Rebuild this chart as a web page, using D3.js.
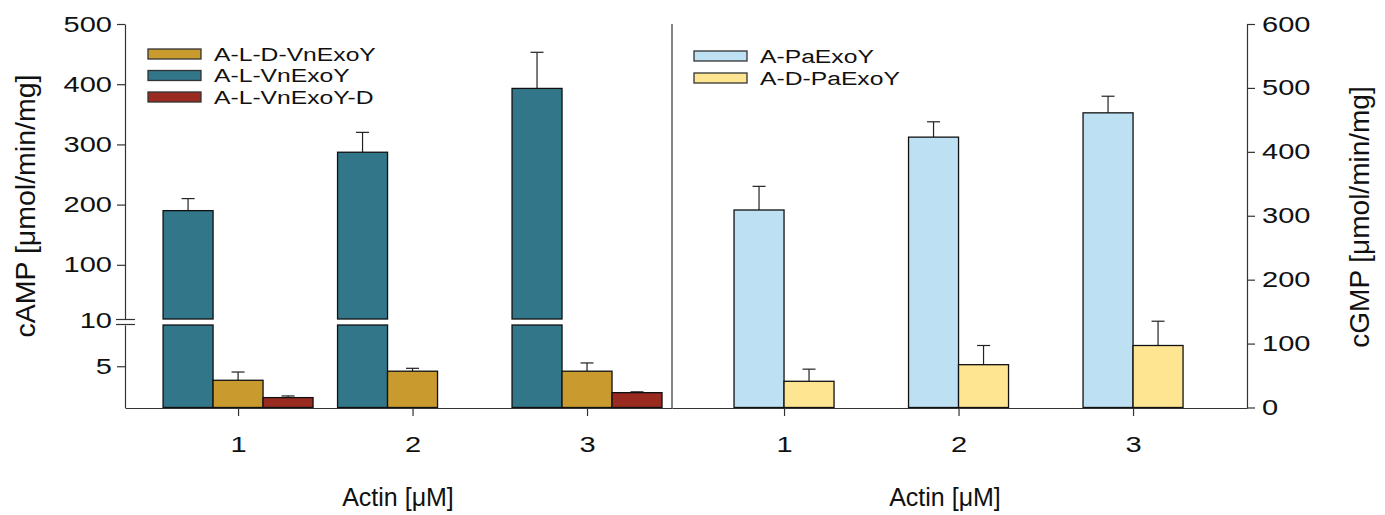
<!DOCTYPE html>
<html><head><meta charset="utf-8">
<script src="https://cdn.jsdelivr.net/npm/d3@7"></script>
<style>body{margin:0;background:#fff}svg{display:block}text{font-family:"Liberation Sans",Arial,sans-serif;fill:#111}</style>
</head><body>
<svg id="c" width="1385" height="515"></svg>
<script>
// ---- data ----
const actin = [1, 2, 3];
const xTickLabels = ["1", "2", "3"];
const seriesLeft = ["A-L-D-VnExoY", "A-L-VnExoY", "A-L-VnExoY-D"];
const seriesRight = ["A-PaExoY", "A-D-PaExoY"];
const alDVn = [3.3, 4.4, 4.4];
const alDVnErr = [1.0, 0.35, 1.0];
const alVn = [190, 287, 393];
const alVnErr = [20, 33, 60];
const alVnD = [1.2, 0, 1.8];
const alVnDErr = [0.2, 0, 0.1];
const aPa = [309, 423, 461];
const aPaErr = [37, 24, 26];
const aDPa = [41, 67, 97];
const aDPaErr = [19, 30, 38];
const leftTicksLow = [5];
const leftTicksHigh = [100, 200, 300, 400, 500];
const rightTicks = [0, 100, 200, 300, 400, 500, 600];

const colors = {"A-L-D-VnExoY":"#c99a2e","A-L-VnExoY":"#327689","A-L-VnExoY-D":"#9a2b20","A-PaExoY":"#bde0f2","A-D-PaExoY":"#fde592"};

const svg = d3.select("#c");
const xL = d3.scaleLinear().domain([0.352, 3.487]).range([125, 672]);
const xR = d3.scaleLinear().domain([0.358, 3.653]).range([672, 1247]);
const yLow = d3.scaleLinear().domain([0, 10]).range([407.5, 325]);
const yHigh = d3.scaleLinear().domain([10, 500]).range([319, 24]);
const yR = d3.scaleLinear().domain([0, 600]).range([407.5, 24]);
const bw = 50 / 174.5; // bar width in data units

const g = svg.append("g");
function errBar(x, y1, y2) {
  g.append("line").attr("x1", x).attr("x2", x).attr("y1", y1).attr("y2", y2).attr("stroke", "#222").attr("stroke-width", 1.2);
  g.append("line").attr("x1", x - 6.5).attr("x2", x + 6.5).attr("y1", y2).attr("y2", y2).attr("stroke", "#222").attr("stroke-width", 1.2);
}
function rect(x0, x1, y0, y1, fill) {
  g.append("rect").attr("x", x0).attr("width", x1 - x0).attr("y", Math.min(y0, y1)).attr("height", Math.abs(y1 - y0))
    .attr("fill", fill).attr("stroke", "#111").attr("stroke-width", 1.3);
}
actin.forEach((a, i) => {
  const t0 = xL(a - 1.5 * bw), t1 = xL(a - 0.5 * bw);
  errBar((t0 + t1) / 2, yHigh(alVn[i]), yHigh(alVn[i] + alVnErr[i]));
  rect(t0, t1, yLow(0), yLow(10), colors["A-L-VnExoY"]);
  rect(t0, t1, yHigh(10), yHigh(alVn[i]), colors["A-L-VnExoY"]);
  const g0 = xL(a - 0.5 * bw), g1 = xL(a + 0.5 * bw);
  errBar((g0 + g1) / 2, yLow(alDVn[i]), yLow(alDVn[i] + alDVnErr[i]));
  rect(g0, g1, yLow(0), yLow(alDVn[i]), colors["A-L-D-VnExoY"]);
  if (alVnD[i] > 0) {
    const r0 = xL(a + 0.5 * bw), r1 = xL(a + 1.5 * bw);
    errBar((r0 + r1) / 2, yLow(alVnD[i]), yLow(alVnD[i] + alVnDErr[i]));
    rect(r0, r1, yLow(0), yLow(alVnD[i]), colors["A-L-VnExoY-D"]);
  }
});
actin.forEach((a, i) => {
  const b0 = xR(a - bw), b1 = xR(a);
  errBar((b0 + b1) / 2, yR(aPa[i]), yR(aPa[i] + aPaErr[i]));
  rect(b0, b1, yR(0), yR(aPa[i]), colors["A-PaExoY"]);
  const y0 = xR(a), y1 = xR(a + bw);
  errBar((y0 + y1) / 2, yR(aDPa[i]), yR(aDPa[i] + aDPaErr[i]));
  rect(y0, y1, yR(0), yR(aDPa[i]), colors["A-D-PaExoY"]);
});

// axes
const TICKFS = "22px", SX = 1.32;
function stretch(sel) {
  sel.selectAll("text").each(function () {
    const t = d3.select(this);
    const x = +t.attr("x") || 0;
    t.attr("x", 0).attr("transform", `translate(${x},0) scale(${SX},1)`);
  });
}
const axStyle = sel => { sel.selectAll("path,line").attr("stroke", "#333").attr("stroke-width", 1.2); sel.selectAll("text").style("font-size", TICKFS).attr("fill", "#111"); stretch(sel); };
const axLH = svg.append("g").attr("transform", "translate(125,0)")
  .call(d3.axisLeft(yHigh).tickValues(leftTicksHigh).tickSize(8).tickSizeOuter(0).tickPadding(5).tickFormat(d3.format("d")));
axStyle(axLH);
const axLL = svg.append("g").attr("transform", "translate(125,0)")
  .call(d3.axisLeft(yLow).tickValues(leftTicksLow).tickSize(8).tickSizeOuter(0).tickPadding(5).tickFormat(d3.format("d")));
axStyle(axLL);
svg.append("line").attr("x1", 125).attr("x2", 125).attr("y1", 319).attr("y2", 325).attr("stroke", "#333").attr("stroke-width", 1.2);
svg.append("rect").attr("x", 121).attr("width", 8).attr("y", 320).attr("height", 4).attr("fill", "#fff");
[319.5, 324.5].forEach(y => svg.append("line").attr("x1", 116).attr("x2", 135).attr("y1", y).attr("y2", y).attr("stroke", "#333").attr("stroke-width", 1.2));
svg.append("text").attr("transform", `translate(112,321) scale(${SX},1)`).attr("text-anchor", "end").attr("dy", "0.32em").style("font-size", TICKFS).text("10");

const axR = svg.append("g").attr("transform", "translate(1247,0)")
  .call(d3.axisRight(yR).tickValues(rightTicks).tickSize(8).tickSizeOuter(0).tickPadding(7));
axStyle(axR);

const axXL = svg.append("g").attr("transform", "translate(0,408)")
  .call(d3.axisBottom(xL).tickValues(actin).tickFormat((d, i) => xTickLabels[i]).tickSize(8).tickSizeOuter(0).tickPadding(20));
axStyle(axXL);
const axXR = svg.append("g").attr("transform", "translate(0,408)")
  .call(d3.axisBottom(xR).tickValues(actin).tickFormat((d, i) => xTickLabels[i]).tickSize(8).tickSizeOuter(0).tickPadding(20));
axStyle(axXR);
svg.append("line").attr("x1", 672).attr("x2", 672).attr("y1", 24).attr("y2", 408).attr("stroke", "#333").attr("stroke-width", 1.2);

// axis titles
svg.append("text").attr("transform", "translate(35,206) rotate(-90)").attr("text-anchor", "middle").style("font-size", "28.5px").text("cAMP [μmol/min/mg]");
svg.append("text").attr("transform", "translate(1369,217) rotate(-90)").attr("text-anchor", "middle").style("font-size", "28px").text("cGMP [μmol/min/mg]");
svg.append("text").attr("x", 398).attr("y", 506).attr("text-anchor", "middle").style("font-size", "25px").text("Actin [μM]");
svg.append("text").attr("x", 945).attr("y", 506).attr("text-anchor", "middle").style("font-size", "25px").text("Actin [μM]");

// legends
function legend(names, x, y, dy) {
  names.forEach((n, i) => {
    svg.append("rect").attr("x", x).attr("y", y + i * dy - 5).attr("width", 53).attr("height", 10)
      .attr("fill", colors[n]).attr("stroke", "#333").attr("stroke-width", 1.3);
    svg.append("text").attr("transform", `translate(${x + 66},${y + i * dy}) scale(1.3,1)`).attr("dy", "0.35em").style("font-size", "19px").text(n);
  });
}
legend(seriesLeft, 148, 54, 21.5);
legend(seriesRight, 694, 56, 22);
</script>
</body></html>
